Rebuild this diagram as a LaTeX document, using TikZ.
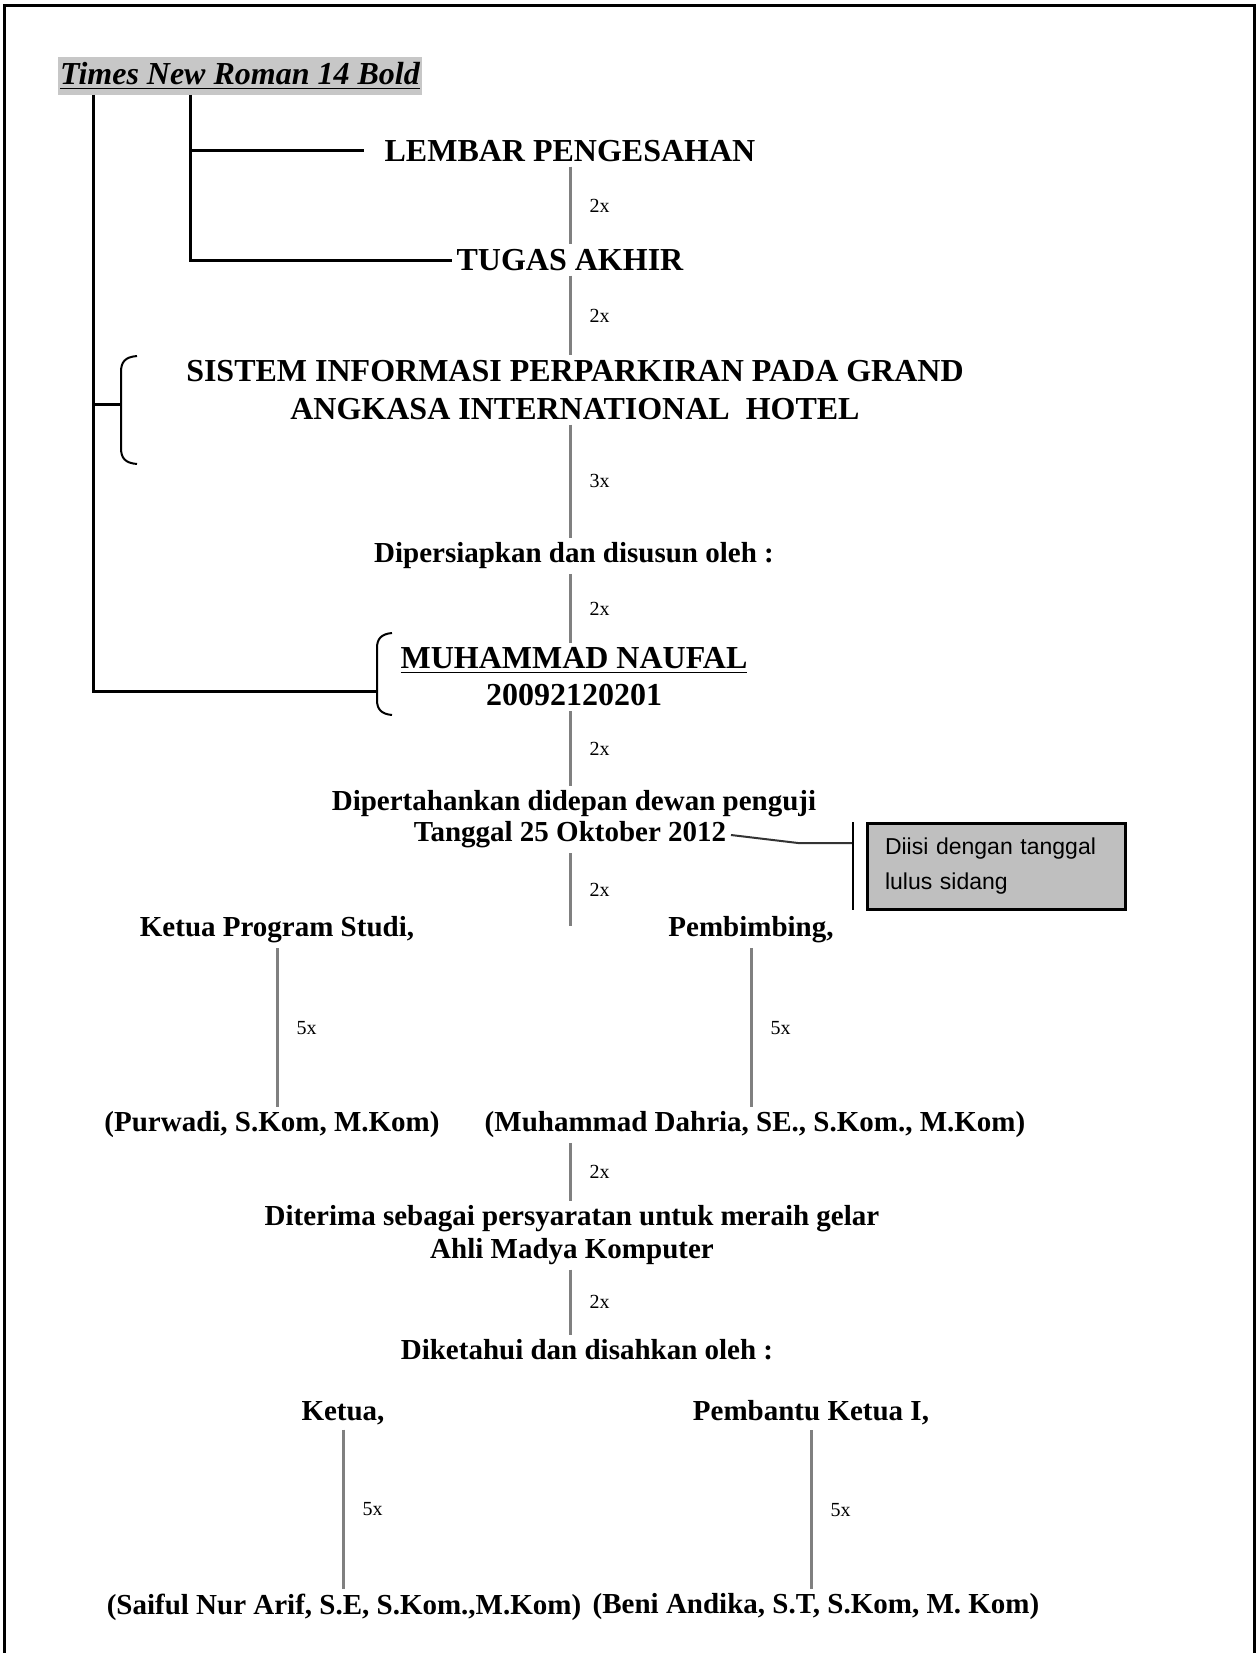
\documentclass[tikz,border=0pt]{standalone}
\usepackage{fontspec}
\setmainfont{Liberation Serif}
\newfontfamily\callfont{Liberation Sans}
\usetikzlibrary{positioning}

\begin{document}
\begin{tikzpicture}[x=0.5pt, y=-0.5pt, thick,
    txt/.style = {fill=white, inner sep=2pt, align=center, font=\bfseries\fontsize{14.5}{16.5}\selectfont},
    big/.style = {txt, font=\bfseries\fontsize{16}{19}\selectfont},
    gline/.style = {draw=black!50, line width=1.5pt},
    bline/.style = {draw=black, line width=1.5pt},
    num/.style = {inner sep=0pt, font=\fontsize{10}{12}\selectfont}]
    \useasboundingbox (0,0) rectangle (1257,1653);
    \draw[line width=1.5pt] (4,1653) |- (1254,6) -- (1254,1653);

    % keterangan huruf
    \node[fill=black!22, inner xsep=1pt, inner ysep=3pt, font=\bfseries\itshape\fontsize{16}{18}\selectfont] (huruf) at (240,76) {\underline{Times New Roman 14 Bold}};

    % kolom tengah
    \node[big, inner xsep=10pt] (lembar) at (570,151) {LEMBAR PENGESAHAN};
    \node[big] (tugas) at (570,260) {TUGAS AKHIR};
    \node[big] (sistem) at (575,390) {SISTEM INFORMASI PERPARKIRAN PADA GRAND\\ANGKASA INTERNATIONAL\ \ HOTEL};
    \node[txt] (siap) at (574,556) {Dipersiapkan dan disusun oleh :};
    \node[big, font=\bfseries\fontsize{16}{18.5}\selectfont] (nama) at (574,677) {\underline{MUHAMMAD NAUFAL}\\20092120201};
    \node[txt] (tahan) at (574,804) {Dipertahankan didepan dewan penguji};
    \node[txt] (tanggal) at (570,835) {Tanggal 25 Oktober 2012};
    \coordinate (ujung) at (570,926);

    \node[txt] (kaprodi) at (277,930) {Ketua Program Studi,};
    \node[txt] (bimbing) at (751,930) {Pembimbing,};
    \node[txt] (purwadi) at (272,1125) {(Purwadi, S.Kom, M.Kom)};
    \node[txt] (dahria) at (755,1125) {(Muhammad Dahria, SE., S.Kom., M.Kom)};
    \node[txt, font=\bfseries\fontsize{14.5}{16.5}\selectfont] (terima) at (572,1235) {Diterima sebagai persyaratan untuk meraih gelar\\Ahli Madya Komputer};
    \node[txt] (ketahui) at (587,1350) {Diketahui dan disahkan oleh :};
    \node[txt] (ketua) at (343,1413) {Ketua,};
    \node[txt] (pk1) at (811,1413) {Pembantu Ketua I,};
    \node[txt] (saiful) at (344,1607) {(Saiful Nur Arif, S.E, S.Kom.,M.Kom)};
    \node[txt] (beni) at (816,1607) {(Beni Andika, S.T, S.Kom, M. Kom)};

    % keterangan tanggal
    \node[draw, line width=1.5pt, fill=black!25, text width=111pt, inner xsep=9pt, minimum height=43pt, align=left, font=\callfont\fontsize{11.5}{17.5}\selectfont] (isi) at (996,866) {Diisi dengan tanggal\\lulus sidang};
    \coordinate (tekuk) at (798,843);
    \coordinate (kA) at (853,822);
    \coordinate (kB) at (853,910);
    \draw[draw=black!80, line width=1pt] (tanggal.east) -- (tekuk) -- (tekuk -| kA);
    \draw[line width=1pt] (kA) -- (kB);

    % jarak spasi
    \draw[gline] (lembar.south) -- (lembar.south |- tugas.north) node[midway, num, right=9pt] {2x};
    \draw[gline] (tugas.south) -- (tugas.south |- sistem.north) node[midway, num, right=9pt] {2x};
    \draw[gline] (tugas.south |- sistem.south) -- (tugas.south |- siap.north) node[midway, num, right=9pt] {3x};
    \draw[gline] (tugas.south |- siap.south) -- (tugas.south |- nama.north) node[midway, num, right=9pt] {2x};
    \draw[gline] (tugas.south |- nama.south) -- (tugas.south |- tahan.north) node[midway, num, right=9pt] {2x};
    \draw[gline] (tanggal.south) -- (ujung) node[midway, num, right=9pt] {2x};
    \draw[gline] (tugas.south |- dahria.south) -- (tugas.south |- terima.north) node[midway, num, right=9pt] {2x};
    \draw[gline] (tugas.south |- terima.south) -- (tugas.south |- ketahui.north) node[midway, num, right=9pt] {2x};
    \draw[gline] (kaprodi.south) -- (kaprodi.south |- purwadi.north) node[midway, num, right=9pt] {5x};
    \draw[gline] (bimbing.south) -- (bimbing.south |- dahria.north) node[midway, num, right=9pt] {5x};
    \draw[gline] (ketua.south) -- (ketua.south |- saiful.north) node[midway, num, right=9pt] {5x};
    \draw[gline] (pk1.south) -- (pk1.south |- beni.north) node[midway, num, right=9pt] {5x};

    % garis penunjuk huruf
    \coordinate (tA) at (93,95);
    \coordinate (tB) at (190,95);
    \coordinate (kurung1) at (121,404);
    \coordinate (kurung2) at (377,691);
    \draw[bline] (tA) |- (kurung2);
    \draw[bline] (tA |- kurung1) -- (kurung1);
    \draw[bline] (tB) |- (tugas.west);
    \draw[bline] (tB |- lembar.west) -- (lembar.west);
    \draw[line width=1pt] (137,356) .. controls (125,357) and (121,362) .. (121,372) -- (121,448) .. controls (121,458) and (125,463) .. (137,464);
    \draw[line width=1pt] (392,633) .. controls (381,634) and (377,639) .. (377,648) -- (377,700) .. controls (377,709) and (381,714) .. (392,715);
\end{tikzpicture}
\end{document}
